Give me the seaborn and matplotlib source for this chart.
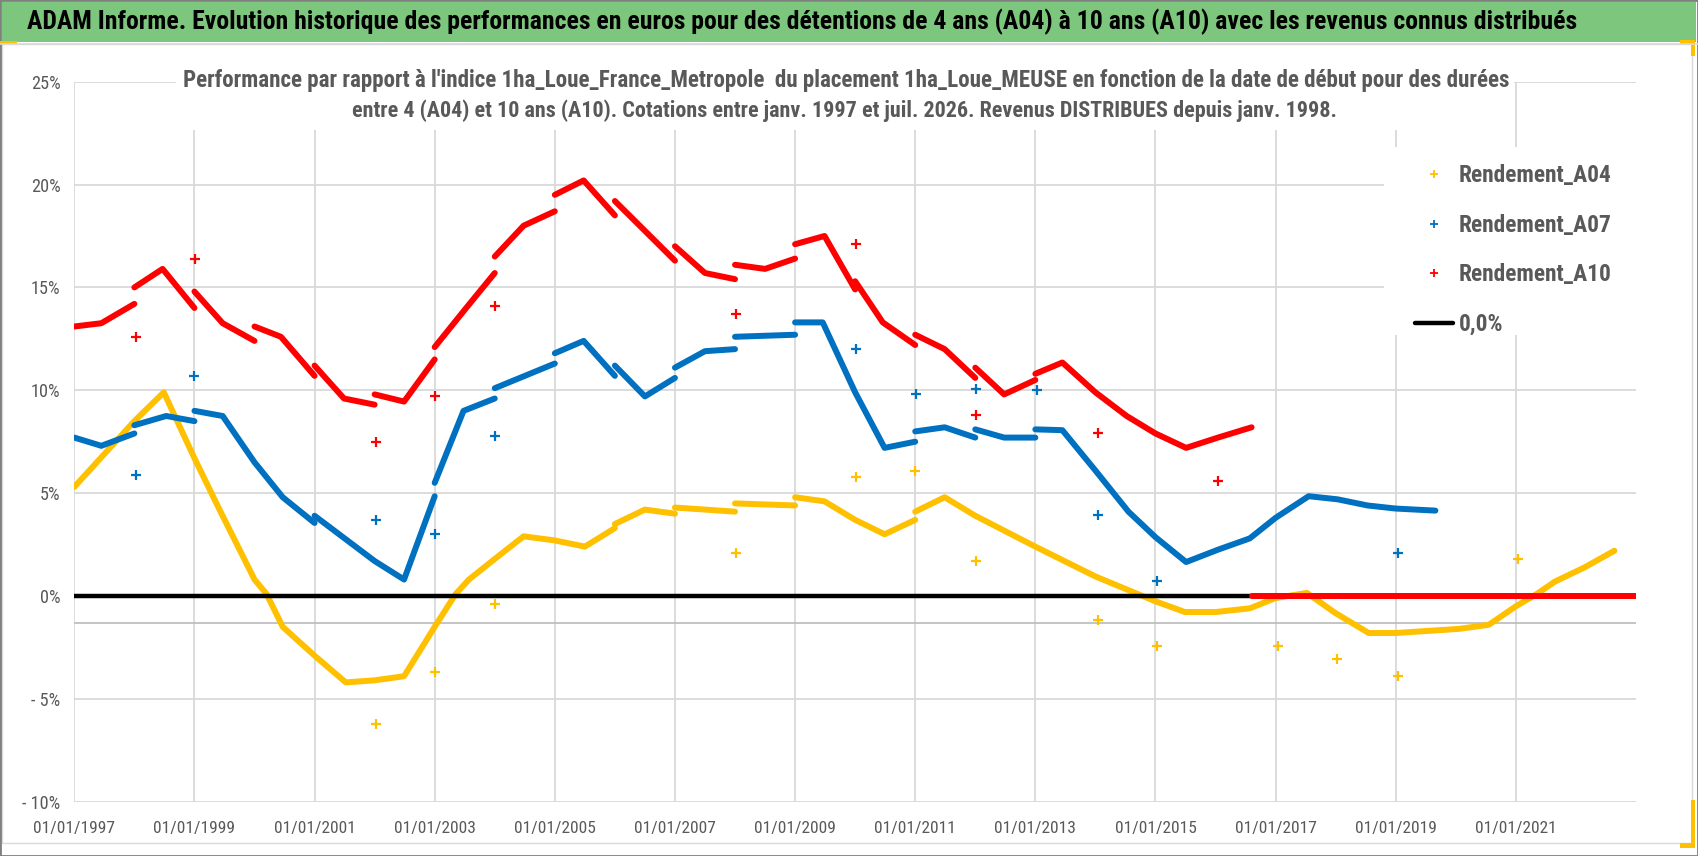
import numpy as np
import pandas as pd
import matplotlib
matplotlib.use("Agg")
import matplotlib.pyplot as plt
import seaborn as sns
from matplotlib import font_manager
from matplotlib.font_manager import FontProperties
from matplotlib.textpath import TextPath
from matplotlib.patches import Rectangle
from matplotlib.lines import Line2D

# ----- Données (années décimales, rendements en %) -----
# une année répétée = saut au 1er janvier (nouveau tronçon)
annees_a04 = [1997.0, 1997.5, 1998.0, 1998.49, 1999.0, 1999.4, 2000.0, 2000.2, 2000.47, 2001.0,
              2001.52, 2002.0, 2002.49, 2003.0, 2003.35, 2003.57, 2004.0, 2004.48, 2005.0, 2005.5,
              2006.0, 2006.0, 2006.5, 2007.0, 2007.0, 2008.0, 2008.0, 2009.0, 2009.0, 2009.49,
              2010.0, 2010.49, 2011.0, 2011.0, 2011.49, 2012.0, 2013.0, 2014.0, 2015.0, 2015.49,
              2016.0, 2016.57, 2017.0, 2017.52, 2017.98, 2018.55, 2019.0, 2020.05, 2020.55, 2021.0,
              2021.35, 2021.65, 2022.15, 2022.64]
rend_a04 = [5.3, 6.9, 8.5, 9.9, 6.7, 4.3, 0.8, 0.1, -1.5, -2.9,
            -4.2, -4.1, -3.9, -1.5, 0.1, 0.8, 1.8, 2.9, 2.7, 2.4,
            3.3, 3.5, 4.2, 4.0, 4.3, 4.1, 4.5, 4.4, 4.8, 4.6,
            3.7, 3.0, 3.7, 4.1, 4.8, 3.9, 2.4, 0.95, -0.26, -0.78,
            -0.78, -0.6, -0.1, 0.15, -0.8, -1.8, -1.8, -1.6, -1.4, -0.5,
            0.1, 0.7, 1.4, 2.2]

annees_a07 = [1997.0, 1997.45, 1998.0, 1998.0, 1998.53, 1999.0, 1999.0, 1999.47, 2000.0, 2000.47,
              2001.0, 2001.0, 2002.0, 2002.49, 2003.0, 2003.0, 2003.48, 2004.0, 2004.0, 2005.0,
              2005.0, 2005.48, 2006.0, 2006.0, 2006.5, 2007.0, 2007.0, 2007.5, 2008.0, 2008.0,
              2009.0, 2009.0, 2009.46, 2010.0, 2010.49, 2011.0, 2011.0, 2011.49, 2012.0, 2012.0,
              2012.48, 2013.0, 2013.0, 2013.45, 2014.0, 2014.55, 2015.0, 2015.51, 2016.04, 2016.57,
              2017.0, 2017.55, 2018.03, 2018.53, 2019.0, 2019.66]
rend_a07 = [7.7, 7.3, 7.9, 8.3, 8.75, 8.5, 9.0, 8.75, 6.5, 4.8,
            3.55, 3.9, 1.7, 0.8, 4.85, 5.5, 9.0, 9.6, 10.1, 11.3,
            11.8, 12.4, 10.7, 11.2, 9.7, 10.6, 11.1, 11.9, 12.0, 12.6,
            12.7, 13.3, 13.3, 9.9, 7.2, 7.5, 8.0, 8.2, 7.7, 8.1,
            7.7, 7.7, 8.1, 8.06, 6.1, 4.1, 2.86, 1.65, 2.25, 2.8,
            3.8, 4.85, 4.7, 4.4, 4.25, 4.15]

annees_a10 = [1997.0, 1997.45, 1998.0, 1998.0, 1998.47, 1999.0, 1999.0, 1999.47, 2000.0, 2000.0,
              2000.44, 2001.0, 2001.0, 2001.49, 2002.0, 2002.0, 2002.49, 2003.0, 2003.0, 2003.51,
              2004.0, 2004.0, 2004.48, 2005.0, 2005.0, 2005.48, 2006.0, 2006.0, 2007.0, 2007.0,
              2007.5, 2008.0, 2008.0, 2008.5, 2009.0, 2009.0, 2009.49, 2010.0, 2010.0, 2010.46,
              2011.0, 2011.0, 2011.49, 2012.0, 2012.0, 2012.48, 2013.0, 2013.0, 2013.45, 2014.0,
              2014.52, 2015.0, 2015.51, 2016.04, 2016.6, 2016.6, 2023.0]
rend_a10 = [13.1, 13.26, 14.2, 15.0, 15.9, 14.0, 14.8, 13.26, 12.4, 13.1,
            12.6, 10.7, 11.2, 9.6, 9.3, 9.8, 9.45, 11.5, 12.1, 13.95,
            15.7, 16.5, 18.0, 18.7, 19.5, 20.2, 18.5, 19.2, 16.3, 17.0,
            15.7, 15.4, 16.1, 15.9, 16.4, 17.1, 17.5, 14.9, 15.3, 13.3,
            12.2, 12.7, 12.0, 10.6, 11.1, 9.8, 10.5, 10.8, 11.35, 9.9,
            8.75, 7.9, 7.2, 7.7, 8.2, 0.0, 0.0]

# points isolés (dates de détachement des revenus)
sauts_annees_a04 = [2002.02, 2003.01, 2004.01, 2008.02, 2010.02, 2011.0, 2012.02, 2014.04,
                    2015.02, 2017.04, 2018.03, 2019.03, 2021.04]
sauts_rend_a04 = [-6.2, -3.7, -0.4, 2.1, 5.8, 6.1, 1.7, -1.16, -2.45, -2.45, -3.07, -3.9, 1.8]
sauts_annees_a07 = [1998.02, 1999.0, 2002.02, 2003.01, 2004.01, 2010.02, 2011.01, 2012.02,
                    2013.02, 2014.04, 2015.02, 2019.03]
sauts_rend_a07 = [5.9, 10.7, 3.7, 3.0, 7.8, 12.0, 9.8, 10.05, 10.0, 3.95, 0.75, 2.1]
sauts_annees_a10 = [1998.02, 1999.01, 2002.02, 2003.01, 2004.01, 2008.02, 2010.02, 2012.02,
                    2014.04, 2016.04]
sauts_rend_a10 = [12.6, 16.4, 7.5, 9.7, 14.1, 13.7, 17.1, 8.8, 7.9, 5.6]

series = ["Rendement_A04", "Rendement_A07", "Rendement_A10"]
couleurs = ["#FFC000", "#0070C0", "#FF0000"]
annees_ticks = list(range(1997, 2022, 2))
rend_ticks = [-10, -5, 0, 5, 10, 15, 20, 25]

titre = ("ADAM Informe. Evolution historique des performances en euros pour des détentions "
         "de 4 ans (A04) à 10 ans (A10) avec les revenus connus distribués")
sous_titre_1 = ("Performance par rapport à l'indice 1ha_Loue_France_Metropole  du placement "
                "1ha_Loue_MEUSE en fonction de la date de début pour des durées")
sous_titre_2 = ("entre 4 (A04) et 10 ans (A10). Cotations entre janv. 1997 et juil. 2026. "
                "Revenus DISTRIBUES depuis janv. 1998.")

# ----- Mise en forme -----
W, H, DPI = 1698, 856, 100
GRIS = "#595959"

sns.set_theme(style="white")
dispo = {f.name for f in font_manager.fontManager.ttflist}
police = next((n for n in ["Liberation Sans Narrow", "Noto Sans Condensed", "DejaVu Sans Condensed",
                           "Roboto Condensed", "Open Sans Condensed", "Liberation Sans"]
               if n in dispo), "DejaVu Sans")
plt.rcParams["font.family"] = [police, "DejaVu Sans"]


def taille(texte, largeur_px, poids="bold"):
    # taille de police (pt) pour que le texte occupe largeur_px pixels
    fp = FontProperties(family=[police, "DejaVu Sans"], weight=poids, size=100)
    w = TextPath((0, 0), texte, prop=fp).get_extents().width
    return 100 * largeur_px / (w * DPI / 72)


def troncons(annees, valeurs, nom):
    seg = np.concatenate([[0], np.cumsum(np.diff(annees) == 0)])
    return pd.DataFrame({"annee": annees, "rendement": valeurs, "segment": seg, "serie": nom})


df_lignes = [troncons(annees_a04, rend_a04, series[0]),
             troncons(annees_a07, rend_a07, series[1]),
             troncons(annees_a10, rend_a10, series[2])]
df_sauts = [pd.DataFrame({"annee": sauts_annees_a04, "rendement": sauts_rend_a04}),
            pd.DataFrame({"annee": sauts_annees_a07, "rendement": sauts_rend_a07}),
            pd.DataFrame({"annee": sauts_annees_a10, "rendement": sauts_rend_a10})]

fig = plt.figure(figsize=(W / DPI, H / DPI), dpi=DPI)
fig.patch.set_facecolor("white")


def fx(px):
    return px / W


def fy(py):
    return 1 - py / H


ax = fig.add_axes([fx(74.3), fy(801.7), fx(1636) - fx(74.3), fy(81.7) - fy(801.7)])
ax.set_facecolor("white")
ax.set_axisbelow(True)

zs = [2.0, 2.1, 3.0]
for d, ds, c, z in zip(df_lignes, df_sauts, couleurs, zs):
    sns.lineplot(data=d, x="annee", y="rendement", units="segment", estimator=None, sort=False,
                 color=c, linewidth=4.3, ax=ax, legend=False, zorder=z)
    sns.scatterplot(data=ds, x="annee", y="rendement", marker="+", s=45, color=c,
                    linewidth=1.6, ax=ax, legend=False, zorder=z)

ax.axhline(0, color="black", lw=3.2, zorder=2.5)
ax.axhline(-1.3, color="#BFBFBF", lw=1.3, zorder=0.6)

ax.set_xlim(1997, 2023)
ax.set_ylim(-10, 25)
ax.set_xticks(annees_ticks)
ax.set_xticklabels([f"01/01/{a}" for a in annees_ticks])
ax.set_yticks(rend_ticks)
ax.set_yticklabels([f"{v}%" if v >= 0 else f"- {abs(v)}%" for v in rend_ticks])
ax.grid(True, color="#D9D9D9", lw=1.3)
for s in ax.spines.values():
    s.set_visible(False)
ax.set_xlabel("")
ax.set_ylabel("")

fs_x = taille("01/01/1997", 80, "normal")
fs_y = taille("25%", 28, "normal")
ax.tick_params(axis="x", length=0, pad=14, labelsize=fs_x, labelcolor=GRIS)
ax.tick_params(axis="y", length=0, pad=10, labelsize=fs_y, labelcolor=GRIS)

# caches blancs du sous-titre et de la légende
ax.add_patch(Rectangle((fx(176), fy(130)), fx(1514) - fx(176), fy(62) - fy(130),
                       transform=fig.transFigure, facecolor="white", edgecolor="none",
                       zorder=1.5, clip_on=False))
ax.add_patch(Rectangle((fx(1384), fy(335)), fx(1640) - fx(1384), fy(147) - fy(335),
                       transform=fig.transFigure, facecolor="white", edgecolor="none",
                       zorder=1.5, clip_on=False))

# bandeau de titre
fig.patches.append(Rectangle((fx(2), fy(42)), fx(1696) - fx(2), fy(2) - fy(42),
                             transform=fig.transFigure, facecolor="#7DC67E", edgecolor="none"))
fig.lines.append(Line2D([0, 1], [fy(44), fy(44)], transform=fig.transFigure, color="#D9D9D9", lw=1.2))
fig.text(fx(802), fy(22), titre, ha="center", va="center", color="black", fontweight="bold",
         fontsize=taille(titre, 1550))

fig.text(fx(846), fy(81), sous_titre_1, ha="center", va="center", color=GRIS,
         fontweight="bold", fontsize=taille(sous_titre_1, 1328))
fig.text(fx(844), fy(111), sous_titre_2, ha="center", va="center", color=GRIS,
         fontweight="bold", fontsize=taille(sous_titre_2, 983))

# légende
fs_leg = taille("Rendement_A04", 151)
fs_leg_px = fs_leg * DPI / 72
poignees = [Line2D([], [], ls="none", marker="+", color=c, ms=6, mew=1.3) for c in couleurs]
poignees.append(Line2D([], [], color="black", lw=3.2))
leg = ax.legend(poignees, series + ["0,0%"], loc="upper left",
                bbox_to_anchor=(fx(1415), fy(182 - 0.75 * fs_leg_px)), bbox_transform=fig.transFigure,
                frameon=False, borderpad=0, borderaxespad=0, handlelength=38 / fs_leg_px,
                handletextpad=0.25, labelspacing=(50 - fs_leg_px) / fs_leg_px,
                prop={"weight": "bold", "size": fs_leg})
for t in leg.get_texts():
    t.set_color(GRIS)
leg.set_zorder(5)

# cadre et poignées de sélection
fig.patches.append(Rectangle((fx(2), fy(843)), fx(1692) - fx(2), fy(44) - fy(843),
                             transform=fig.transFigure, facecolor="none", edgecolor="#D9D9D9", lw=1.0))
fig.patches.append(Rectangle((0, 0), 1, 1, transform=fig.transFigure, facecolor="none",
                             edgecolor="#7F7F7F", lw=2.0))
for (x0, y0, x1, y1) in [(0, 41, 17, 44), (1680, 40, 1695, 44), (1691, 40, 1695, 56),
                         (1691, 800, 1695, 848), (1680, 843, 1695, 848)]:
    fig.patches.append(Rectangle((fx(x0), fy(y1)), fx(x1) - fx(x0), fy(y0) - fy(y1),
                                 transform=fig.transFigure, facecolor="#FFC000", edgecolor="none"))

fig.savefig("out.png", dpi=DPI)
